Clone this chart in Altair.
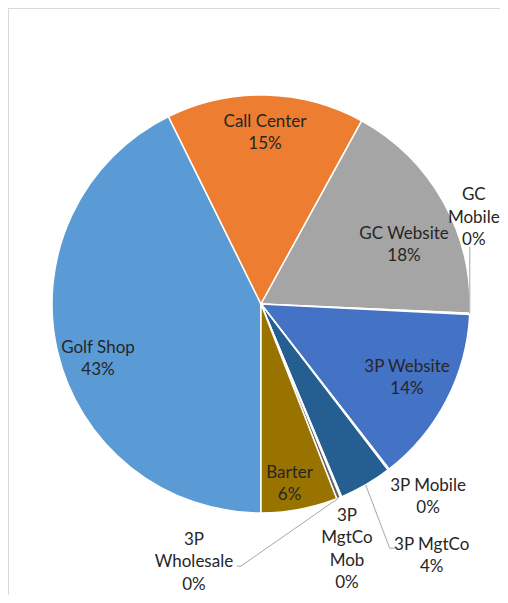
import math
import altair as alt
import pandas as pd

# ---------------- data ----------------
categories = ["Golf Shop", "Call Center", "GC Website", "GC Mobile", "3P Website",
              "3P Mobile", "3P MgtCo", "3P MgtCo Mob", "3P Wholesale", "Barter"]
shares = [42.7, 15.3, 17.7, 0.1, 13.7, 0.1, 4.1, 0.1, 0.3, 5.9]
colors = ["#5B9BD5", "#ED7D31", "#A5A5A5", "#FFC000", "#4472C4",
          "#70AD47", "#255E91", "#9E480E", "#636363", "#997300"]

# ---------------- layout ----------------
W, H = 492, 587
CX, CY = 253, 296          # pie centre in view coordinates
R = 209                    # pie radius
START_DEG = 180            # angle of first slice
LH = 22.5                  # label line height

# wrapped label names (Excel label box width)
label_names = {
    "GC Mobile": "GC\nMobile",
    "3P MgtCo Mob": "3P\nMgtCo\nMob",
    "3P Wholesale": "3P\nWholesale",
}
# label centre offset from the slice's outer-edge midpoint
label_offsets = {
    "Golf Shop": (40.5, 7.5),
    "Call Center": (-0.6, 38),
    "GC Website": (-39.2, 43.4),
    "GC Mobile": (4, -96),
    "3P Website": (-39.3, -22.6),
    "3P Mobile": (39.5, 27.5),
    "3P MgtCo": (66, 71),
    "3P MgtCo Mob": (6, 52.5),
    "3P Wholesale": (-144.6, 64),
    "Barter": (-10, -25.4),
}
# leader-line points relative to the label centre
leader_points = {
    "GC Mobile": [(-4, 29)],
    "3P MgtCo": [(-42, -7.7), (-37, -7.7)],
    "3P Wholesale": [(47, 4), (43, 4)],
}

total = sum(shares)
df = pd.DataFrame({"category": categories, "value": shares, "idx": list(range(len(categories)))})

# label positions derived from slice angles
rows, lead_rows = [], []
acc = 0.0
for cat, v in zip(categories, shares):
    mid = math.radians(START_DEG + (acc + v / 2) / total * 360)
    acc += v
    ex, ey = CX + R * math.sin(mid), CY - R * math.cos(mid)
    dx, dy = label_offsets[cat]
    lx, ly = ex + dx, ey + dy
    name = label_names.get(cat, cat)
    label = f"{name}\n{round(v / total * 100):.0f}%"
    n = label.count("\n") + 1
    rows.append({"category": cat, "lx": lx, "ly": ly - (n - 1) * LH / 2, "label": label})
    if cat in leader_points:
        lead_rows.append({"category": cat, "step": 0, "x": ex, "y": ey})
        for i, (px, py) in enumerate(leader_points[cat]):
            lead_rows.append({"category": cat, "step": i + 1, "x": lx + px, "y": ly + py})

labels_df = pd.DataFrame(rows)
lead_df = pd.DataFrame(lead_rows)

pie = alt.Chart(df).mark_arc(outerRadius=R, stroke="white", strokeWidth=1.5).encode(
    theta=alt.Theta("value:Q", stack=True,
                    scale=alt.Scale(range=[math.pi, 3 * math.pi])),
    color=alt.Color("category:N", scale=alt.Scale(domain=categories, range=colors), legend=None),
    order=alt.Order("idx:Q"),
    x=alt.value(CX),
    y=alt.value(CY),
)

leaders = alt.Chart(lead_df).mark_line(color="#A6A6A6", strokeWidth=1).encode(
    x=alt.X("x:Q", scale=None, axis=None),
    y=alt.Y("y:Q", scale=None, axis=None),
    detail="category:N",
    order="step:Q",
)

text = alt.Chart(labels_df).mark_text(
    font="Lato", fontSize=17, color="#262626", align="center", baseline="middle",
    lineBreak="\n", lineHeight=LH,
).encode(
    x=alt.X("lx:Q", scale=None, axis=None),
    y=alt.Y("ly:Q", scale=None, axis=None),
    text="label:N",
)

border_df = pd.DataFrame({"k": [0]})
top_line = alt.Chart(border_df).mark_rule(color="#D9D9D9", strokeWidth=1).encode(
    x=alt.value(0), x2=alt.value(W), y=alt.value(0.5))
left_line = alt.Chart(border_df).mark_rule(color="#D9D9D9", strokeWidth=1).encode(
    x=alt.value(0.5), y=alt.value(0), y2=alt.value(H))

chart = alt.layer(top_line, left_line, pie, leaders, text).properties(
    width=W, height=H, padding=0,
    autosize=alt.AutoSizeParams(type="none"),
).configure_view(stroke=None)

chart.save("out.html", embed_options={"renderer": "svg", "actions": False})
